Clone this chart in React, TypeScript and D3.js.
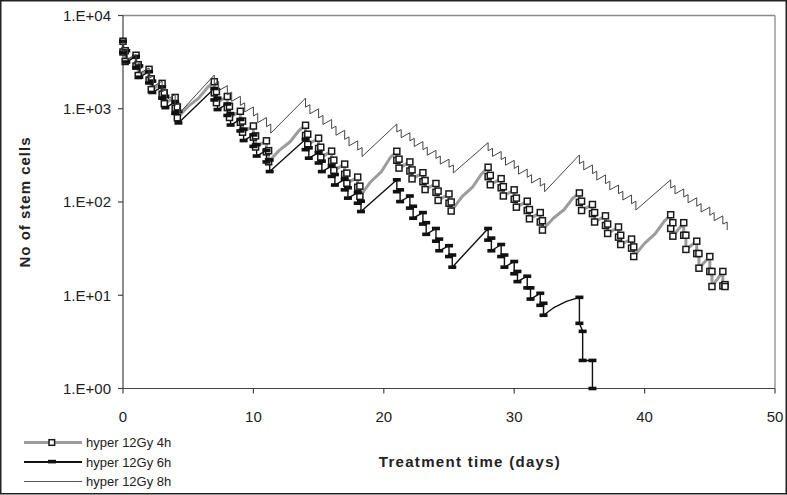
import React from 'react';
import * as d3 from 'd3';

// ---------- data ----------
// Treatment weekdays (days); each day carries [pre 1st fraction, post 1st, pre 2nd, post 2nd]
const weekdays = [0, 1, 2, 3, 4, 7, 8, 9, 10, 11, 14, 15, 16, 17, 18, 21, 22, 23, 24, 25, 28, 29, 30, 31, 32, 35, 36, 37, 38, 39, 42, 43, 44, 45, 46];
const weekdays6h = [0, 1, 2, 3, 4, 7, 8, 9, 10, 11, 14, 15, 16, 17, 18, 21, 22, 23, 24, 25, 28, 29, 30, 31, 32, 35, 36];

const values4h: number[][] = [
  [5300, 4063, 4191, 3213], [3746, 2871, 2962, 2271], [2647, 2029, 2093, 1605], [1871, 1434, 1479, 1134], [1322, 1013, 1045, 801],
  [1950, 1482, 1528, 1161], [1354, 1029, 1061, 806], [940, 715, 737, 560], [653, 496, 512, 389], [453, 345, 355, 270],
  [665, 517, 533, 414], [483, 375, 387, 301], [351, 273, 281, 218], [255, 198, 204, 159], [185, 144, 148, 115],
  [350, 280, 288, 231], [269, 215, 221, 177], [206, 165, 170, 136], [158, 127, 131, 104], [122, 97, 100, 80],
  [236, 187, 193, 153], [178, 142, 146, 116], [135, 107, 110, 88], [102, 81, 83, 66], [77, 61, 63, 50],
  [125, 99, 102, 81], [94, 75, 77, 61], [71, 56, 58, 46], [54, 42, 44, 35], [40, 32, 33, 26],
  [73, 52, 60, 43], [60, 44, 44, 31], [38, 28, 28, 19.5], [26, 18, 18, 12.4], [18, 12.6, 13, 12.4],
];
// weekend regrowth samples of the 4h run (time, cells)
const weekend4h: [number, number][] = [
  [5.0, 1060], [5.8, 1300], [6.5, 1700],
  [12.0, 360], [12.8, 440], [13.5, 585],
  [19.0, 165], [19.8, 210], [20.5, 300],
  [26.0, 114], [26.8, 144], [27.5, 200],
  [33.0, 67], [33.8, 82], [34.5, 110],
  [40.0, 36], [40.8, 45.5], [41.5, 62],
];

const values6h: number[][] = [
  [5300, 4006, 4196, 3170], [3640, 2751, 2882, 2177], [2500, 1890, 1979, 1495], [1717, 1298, 1359, 1027], [1179, 891, 934, 705],
  [1650, 1243, 1301, 980], [1125, 848, 887, 669], [768, 578, 605, 456], [524, 395, 413, 311], [357, 269, 282, 212],
  [470, 364, 381, 295], [338, 262, 274, 212], [243, 188, 197, 152], [175, 135, 142, 110], [126, 97, 102, 79],
  [173, 129, 135, 101], [116, 86, 90, 67], [77, 58, 60, 45], [52, 38, 40, 30], [34, 26, 27, 20],
  [52, 39, 41, 30], [35, 26, 27, 20], [23, 17, 18, 14], [16, 12, 12, 9.1], [10.5, 7.8, 8.2, 6.1],
  [9.5, 5.0, 4.1, 2.0], [2.0, 1.0],
];
const weekend6h: [number, number][] = [[33.0, 7.3], [34.0, 8.6]];

const values8h: number[][] = [
  [5300, 4090, 4360, 3370], [3810, 2940, 3130, 2420], [2740, 2120, 2250, 1740], [1970, 1520, 1620, 1250], [1420, 1090, 1160, 900],
  [2300, 1841, 1957, 1565], [1768, 1415, 1505, 1203], [1359, 1088, 1157, 925], [1045, 837, 889, 711], [803, 643, 684, 547],
  [1300, 1039, 1105, 883], [998, 798, 848, 678], [766, 612, 651, 520], [588, 470, 500, 400], [452, 361, 384, 307],
  [688, 563, 598, 489], [553, 453, 481, 394], [445, 364, 387, 317], [358, 293, 311, 255], [288, 236, 250, 205],
  [433, 354, 377, 308], [348, 285, 303, 248], [280, 229, 244, 199], [225, 184, 196, 160], [181, 148, 158, 129],
  [320, 258, 274, 221], [250, 201, 214, 172], [195, 157, 167, 135], [152, 123, 130, 105], [119, 96, 102, 82],
  [173, 141, 150, 122], [138, 113, 120, 98], [111, 90, 96, 78], [88, 72, 77, 63], [71, 58, 61, 50],
];

const seriesNames = ['hyper 12Gy 4h', 'hyper 12Gy 6h', 'hyper 12Gy 8h'];
const intervalHours = [4, 6, 8];
const xTicks = [0, 10, 20, 30, 40, 50];
const yTicks = [1, 10, 100, 1000, 10000];
const yTickLabels = ['1.E+00', '1.E+01', '1.E+02', '1.E+03', '1.E+04'];

// ---------- helpers ----------
type Pt = { t: number; v: number; m: boolean };

function buildPoints(days: number[], vals: number[][], hours: number, extras: [number, number][]): Pt[] {
  const gap = hours / 24;
  const pts: Pt[] = [];
  days.forEach((d, i) => {
    const row = vals[i];
    pts.push({ t: d, v: row[0], m: true });
    pts.push({ t: d, v: row[1], m: true });
    if (row.length > 2) {
      pts.push({ t: d + gap, v: row[2], m: true });
      pts.push({ t: d + gap, v: row[3], m: true });
    }
  });
  extras.forEach(([t, v]) => pts.push({ t, v, m: false }));
  return pts.sort((a, b) => a.t - b.t);
}

const FONT = 'Liberation Sans, Arial, Helvetica, sans-serif';

export default function App() {
  const W = 787, H = 495;
  const x = d3.scaleLinear().domain([0, 50]).range([123, 775]);
  const y = d3.scaleLog().domain([1, 10000]).range([388.5, 15.5]);

  const p4 = buildPoints(weekdays, values4h, intervalHours[0], weekend4h);
  const p6 = buildPoints(weekdays6h, values6h, intervalHours[1], weekend6h);
  const p8 = buildPoints(weekdays, values8h, intervalHours[2], []);

  const line = d3.line<Pt>().x(d => x(d.t)).y(d => y(d.v));

  const legendY = [442.5, 462, 481.5];

  return (
    <svg width={W} height={H} style={{ position: 'absolute', left: 0, top: 0, background: '#fff' }} fontFamily={FONT}>
      <rect x={0} y={0} width={W} height={H} fill="#fff" />
      <rect x={0.75} y={0.75} width={W - 1.5} height={H - 2} fill="none" stroke="#222" strokeWidth={1.5} />

      {/* plot frame */}
      <line x1={123} x2={775} y1={15.5} y2={15.5} stroke="#8a8a8a" strokeWidth={1.3} />
      <line x1={775} x2={775} y1={15.5} y2={388.5} stroke="#8a8a8a" strokeWidth={1.3} />

      {/* axes */}
      <line x1={123} x2={123} y1={15.5} y2={388.5} stroke="#444" strokeWidth={1.2} />
      <line x1={123} x2={775} y1={388.5} y2={388.5} stroke="#444" strokeWidth={1.2} />
      {yTicks.map((t, i) => (
        <g key={'yt' + t}>
          <line x1={118} x2={123} y1={y(t)} y2={y(t)} stroke="#444" strokeWidth={1.2} />
          <text x={111} y={y(t)} dy="0.36em" textAnchor="end" fontSize={15} fill="#222">{yTickLabels[i]}</text>
        </g>
      ))}
      {xTicks.map(t => (
        <g key={'xt' + t}>
          <line x1={x(t)} x2={x(t)} y1={388.5} y2={393.5} stroke="#444" strokeWidth={1.2} />
          <text x={x(t)} y={417} dy="0.36em" textAnchor="middle" fontSize={15} fill="#222">{t}</text>
        </g>
      ))}

      {/* series: 4h */}
      <path d={line(p4) || ''} fill="none" stroke="#9c9c9c" strokeWidth={3} strokeLinejoin="round" />
      {/* series: 6h */}
      <path d={line(p6) || ''} fill="none" stroke="#111" strokeWidth={1.4} strokeLinejoin="round" />
      {p4.filter(d => d.m).map((d, i) => (
        <rect key={'m4' + i} x={x(d.t) - 3} y={y(d.v) - 3} width={6} height={6} fill="#fff" stroke="#1a1a1a" strokeWidth={1.5} />
      ))}
      {p6.filter(d => d.m).map((d, i) => (
        <rect key={'m6' + i} x={x(d.t) - 4} y={y(d.v) - 1.8} width={8} height={3.6} fill="#111" />
      ))}
      {/* series: 8h */}
      <path d={line(p8) || ''} fill="none" stroke="#444" strokeWidth={1} strokeLinejoin="miter" />

      {/* axis titles */}
      <text x={470} y={467} textAnchor="middle" fontSize={15} fontWeight="bold" letterSpacing={1.3} fill="#222">Treatment time (days)</text>
      <text transform="translate(30,202) rotate(-90)" textAnchor="middle" fontSize={15} fontWeight="bold" letterSpacing={1} fill="#222">No of stem cells</text>

      {/* legend */}
      <g>
        <line x1={24} x2={82} y1={legendY[0]} y2={legendY[0]} stroke="#9c9c9c" strokeWidth={3} />
        <rect x={49} y={legendY[0] - 2.8} width={5.6} height={5.6} fill="#fff" stroke="#1a1a1a" strokeWidth={1.5} />
        <text x={86} y={legendY[0]} dy="0.36em" fontSize={13} fill="#222">{seriesNames[0]}</text>

        <line x1={24} x2={82} y1={legendY[1]} y2={legendY[1]} stroke="#111" strokeWidth={1.8} />
        <rect x={48} y={legendY[1] - 2.2} width={8} height={3.6} fill="#111" />
        <text x={86} y={legendY[1]} dy="0.36em" fontSize={13} fill="#222">{seriesNames[1]}</text>

        <line x1={24} x2={82} y1={legendY[2]} y2={legendY[2]} stroke="#555" strokeWidth={1} />
        <text x={86} y={legendY[2]} dy="0.36em" fontSize={13} fill="#222">{seriesNames[2]}</text>
      </g>
    </svg>
  );
}
